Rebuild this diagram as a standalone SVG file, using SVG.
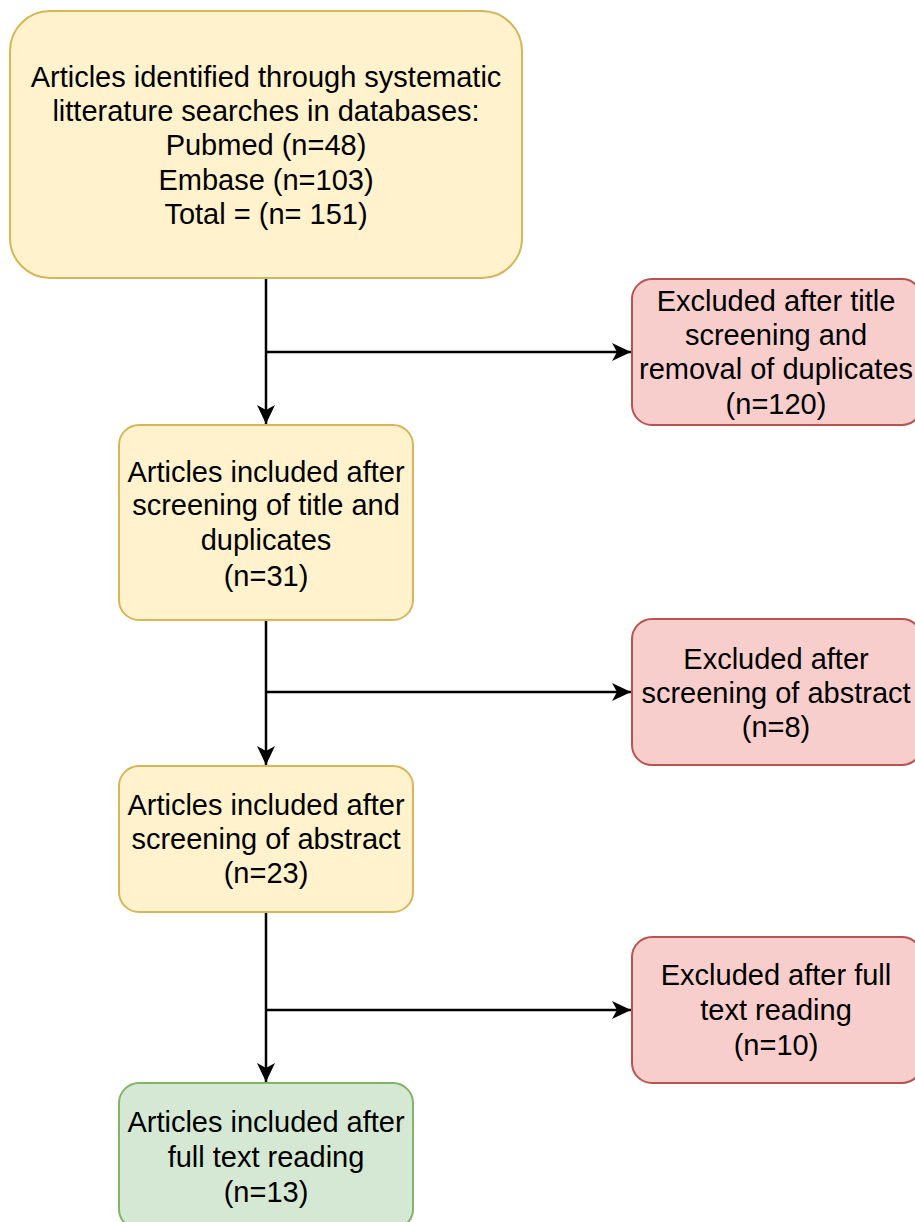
<svg xmlns="http://www.w3.org/2000/svg" width="915" height="1222" viewBox="0 0 915 1222">
<style>
text{font-family:"Liberation Sans",Arial,sans-serif;font-size:29px;fill:#000;text-anchor:middle}
.y{fill:#fff2cc;stroke:#d6b656;stroke-width:2}
.r{fill:#f8cecc;stroke:#b85450;stroke-width:2}
.g{fill:#d5e8d4;stroke:#82b366;stroke-width:2}
.c{fill:none;stroke:#000;stroke-width:2.5}
</style>
<defs>
<marker id="a" markerWidth="20" markerHeight="20" viewBox="0 0 20 20" refX="19" refY="10" orient="auto" markerUnits="userSpaceOnUse">
<path d="M0,1 L19,10 L0,19 L5,10 Z" fill="#000"/>
</marker>
</defs>
<rect width="915" height="1222" fill="#fff"/>
<g id="connectors">
<path class="c" d="M266,279 V424" marker-end="url(#a)"/>
<path class="c" d="M266,352 H631" marker-end="url(#a)"/>
<path class="c" d="M266,620 V765" marker-end="url(#a)"/>
<path class="c" d="M266,692 H631" marker-end="url(#a)"/>
<path class="c" d="M266,912 V1082" marker-end="url(#a)"/>
<path class="c" d="M266,1010 H631" marker-end="url(#a)"/>
</g>
<g id="n1">
<rect class="y" x="10" y="11" width="512" height="267" rx="40"/>
<text x="266" y="87">Articles identified through systematic</text>
<text x="266" y="121">litterature searches in databases:</text>
<text x="266" y="155">Pubmed (n=48)</text>
<text x="266" y="190">Embase (n=103)</text>
<text x="266" y="224">Total = (n= 151)</text>
</g>
<g id="n2">
<rect class="r" x="632" y="279" width="290" height="146" rx="20"/>
<text x="776" y="311">Excluded after title</text>
<text x="776" y="345">screening and</text>
<text x="776" y="379">removal of duplicates</text>
<text x="776" y="414">(n=120)</text>
</g>
<g id="n3">
<rect class="y" x="119" y="425" width="294" height="195" rx="20"/>
<text x="266" y="482">Articles included after</text>
<text x="266" y="515">screening of title and</text>
<text x="266" y="550">duplicates</text>
<text x="266" y="586">(n=31)</text>
</g>
<g id="n4">
<rect class="r" x="632" y="619" width="290" height="146" rx="20"/>
<text x="776" y="669">Excluded after</text>
<text x="776" y="703">screening of abstract</text>
<text x="776" y="737">(n=8)</text>
</g>
<g id="n5">
<rect class="y" x="119" y="766" width="294" height="146" rx="20"/>
<text x="266" y="815">Articles included after</text>
<text x="266" y="849">screening of abstract</text>
<text x="266" y="883">(n=23)</text>
</g>
<g id="n6">
<rect class="r" x="632" y="937" width="290" height="146" rx="20"/>
<text x="776" y="985">Excluded after full</text>
<text x="776" y="1020">text reading</text>
<text x="776" y="1055">(n=10)</text>
</g>
<g id="n7">
<rect class="g" x="119" y="1083" width="294" height="146" rx="20"/>
<text x="266" y="1132">Articles included after</text>
<text x="266" y="1167">full text reading</text>
<text x="266" y="1202">(n=13)</text>
</g>
</svg>
